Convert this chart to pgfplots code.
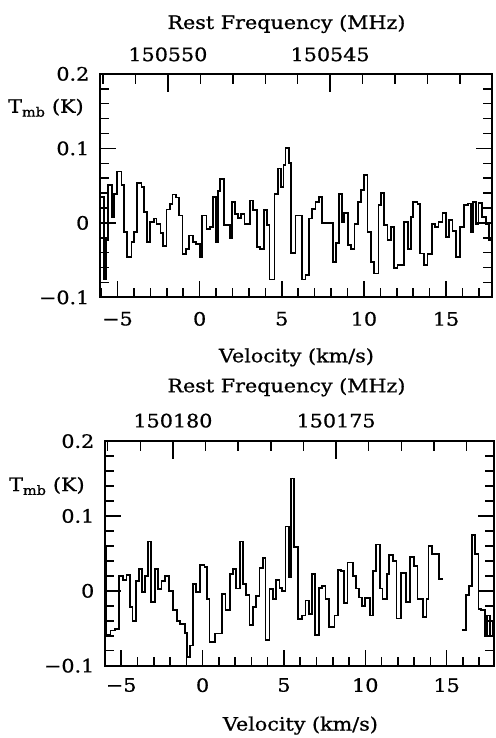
\documentclass[border=0pt]{standalone}
\usepackage{fontspec}
\setmainfont{DejaVu Serif}
\newfontfamily\lblfont{DejaVu Serif}[FakeStretch=1.12, FakeBold=0.8]
\usepackage{pgfplots}
\pgfplotsset{compat=1.18}

\newcommand\lbl{\lblfont\fontsize{18.5pt}{21pt}\selectfont}

\begin{document}
\begin{tikzpicture}

% upper spectrum
\begin{axis}[at={(100pt,440pt)}, scale only axis, width=393pt, height=224pt,
  xmin=-6.08, xmax=17.80, ymin=-0.1, ymax=0.2, clip=false,
  major tick length=16pt, minor tick length=9pt,
  major tick style={black, line width=1.5pt}, minor tick style={black, line width=1.5pt},
  xtick={-5,0,5,10,15}, minor xtick={-6,...,17}, xtick pos=lower,
  ytick pos=both, yticklabel pos=lower, yticklabel style={xshift=-7pt},
  minor y tick num=4, ytick={-0.1,0,0.1,0.2}, yticklabels={−0.1,0,0.1,0.2},
  axis line style={line width=2pt},
  tick label style={font=\lbl}, xticklabels={−5,0,5,10,15}, xticklabel style={yshift=-11pt}]
\addplot[const plot mark left, black, line width=1.8pt, mark=none] coordinates {
(-6.00,0.035) (-5.83,-0.075) (-5.71,-0.023) (-5.57,0.051) (-5.36,0.008)
(-5.22,0.039) (-5.02,0.069) (-4.76,0.051) (-4.62,-0.012) (-4.42,-0.046)
(-4.15,-0.026) (-4.01,-0.012) (-3.81,0.054) (-3.54,0.048) (-3.40,0.015)
(-3.20,-0.026) (-3.00,0.001) (-2.79,0.006) (-2.63,-0.002) (-2.39,-0.014)
(-2.23,-0.031) (-2.02,0.018) (-1.82,0.025) (-1.66,0.038) (-1.42,0.034)
(-1.26,0.010) (-1.05,-0.042) (-0.81,-0.035) (-0.65,-0.017) (-0.41,-0.026)
(-0.20,-0.028) (0.00,-0.046) (0.16,0.010) (0.41,-0.008) (0.61,-0.006)
(0.81,0.035) (0.97,-0.026) (1.14,0.043) (1.26,0.059) (1.46,-0.003)
(1.87,-0.021) (1.99,0.028) (2.13,0.012) (2.33,0.007) (2.53,0.012)
(2.73,-0.002) (3.08,0.030) (3.24,0.017) (3.48,-0.032) (3.69,-0.035)
(3.91,0.017) (4.09,-0.003) (4.25,-0.076) (4.56,0.039) (4.76,0.073)
(4.96,0.048) (5.10,0.078) (5.22,0.101) (5.43,0.080) (5.57,-0.040)
(5.83,0.010) (6.24,-0.076) (6.44,-0.070) (6.64,0.006) (6.85,0.019)
(7.05,0.028) (7.25,0.035) (7.45,0.000) (8.10,-0.052) (8.31,-0.027)
(8.46,0.039) (8.67,0.001) (8.81,0.013) (9.01,-0.030) (9.22,-0.035)
(9.42,-0.001) (9.62,0.028) (9.82,0.044) (10.02,0.064) (10.22,-0.012)
(10.43,-0.052) (10.63,-0.068) (10.89,0.024) (11.04,0.040) (11.24,-0.003)
(11.44,-0.023) (11.65,-0.005) (11.85,-0.060) (12.05,-0.057) (12.45,0.001)
(12.66,-0.035) (12.86,0.008) (13.00,0.028) (13.26,0.025) (13.41,-0.041)
(13.67,-0.056) (13.87,-0.042) (14.14,-0.001) (14.34,-0.005) (14.54,0.001)
(14.78,0.013) (14.99,-0.019) (15.19,0.004) (15.39,-0.011) (15.60,-0.046)
(15.84,-0.005) (16.10,0.024) (16.36,0.026) (16.51,-0.012) (16.65,0.028)
(16.81,-0.001) (16.97,0.027) (17.21,0.008) (17.45,-0.001) (17.62,-0.023)
(17.76,-0.023)
};
\end{axis}
% upper frequency scale (offset from 150540 MHz)
\begin{axis}[at={(100pt,440pt)}, scale only axis, width=393pt, height=224pt,
  xmin=0.01, xmax=12.10, x dir=reverse, ymin=0, ymax=1, ytick=\empty,
  major tick length=18pt, minor tick length=10pt,
  major tick style={black, line width=1.5pt}, minor tick style={black, line width=1.5pt},
  xtick={5,10}, minor xtick={1,...,12},
  xtick pos=upper, xticklabel pos=upper, axis line style={line width=2pt},
  tick label style={font=\lbl}, xticklabels={150545,150550}, xticklabel style={yshift=9pt}]
\end{axis}

% lower spectrum
\begin{axis}[at={(105pt,71pt)}, scale only axis, width=390pt, height=225pt,
  xmin=-6.01, xmax=17.91, ymin=-0.1, ymax=0.2, clip=false,
  major tick length=16pt, minor tick length=9pt,
  major tick style={black, line width=1.5pt}, minor tick style={black, line width=1.5pt},
  xtick={-5,0,5,10,15}, minor xtick={-6,...,17}, xtick pos=lower,
  ytick pos=both, yticklabel pos=lower, yticklabel style={xshift=-7pt},
  minor y tick num=4, ytick={-0.1,0,0.1,0.2}, yticklabels={−0.1,0,0.1,0.2},
  axis line style={line width=2pt},
  tick label style={font=\lbl}, xticklabels={−5,0,5,10,15}, xticklabel style={yshift=-9pt}]
\addplot[const plot mark left, black, line width=1.8pt, mark=none] coordinates {
(-5.98,0.057) (-5.95,-0.059) (-5.66,-0.053) (-5.40,-0.051) (-5.13,0.020)
(-4.89,0.015) (-4.68,0.021) (-4.48,-0.022) (-4.31,-0.040) (-4.11,0.013)
(-3.91,0.029) (-3.70,-0.002) (-3.56,0.020) (-3.36,0.066) (-3.15,-0.015)
(-2.94,0.029) (-2.74,0.002) (-2.53,0.013) (-2.33,0.020) (-2.07,0.000)
(-1.82,-0.026) (-1.58,-0.040) (-1.37,-0.044) (-1.10,-0.056) (-0.96,-0.088)
(-0.75,-0.073) (-0.60,0.009) (-0.39,-0.002) (-0.18,0.035) (0.12,0.032)
(0.26,-0.011) (0.43,-0.068) (0.74,-0.057) (1.21,-0.004) (1.41,-0.026)
(1.66,0.022) (1.86,0.029) (2.07,0.003) (2.31,0.066) (2.47,0.009)
(2.68,-0.006) (2.88,-0.046) (3.09,-0.022) (3.29,-0.007) (3.50,0.031)
(3.70,0.044) (3.87,-0.066) (4.11,0.002) (4.31,-0.011) (4.52,0.015)
(4.72,0.004) (4.89,0.000) (5.09,0.086) (5.29,0.018) (5.44,0.150)
(5.64,0.059) (5.85,-0.038) (6.12,-0.033) (6.32,-0.013) (6.52,-0.031)
(6.73,0.022) (6.93,-0.059) (7.13,0.004) (7.34,0.007) (7.55,-0.011)
(7.75,-0.048) (8.10,-0.033) (8.30,0.028) (8.51,0.026) (8.71,-0.016)
(8.91,0.038) (9.26,0.020) (9.43,0.003) (9.63,-0.009) (9.80,-0.020)
(10.00,-0.010) (10.29,-0.033) (10.49,0.026) (10.66,0.062) (10.90,0.003)
(11.06,-0.011) (11.31,0.022) (11.47,0.048) (11.72,0.040) (11.92,-0.037)
(12.19,0.024) (12.50,-0.015) (12.74,0.045) (13.01,0.033) (13.21,-0.011)
(13.56,-0.035) (13.76,-0.011) (13.88,0.060) (14.09,0.049) (14.54,0.016)
(14.79,0.016)
};
\addplot[const plot mark left, black, line width=1.8pt, mark=none] coordinates {
(15.93,-0.052) (16.18,-0.006) (16.38,0.007) (16.55,0.075) (16.75,0.049)
(16.95,-0.024) (17.10,-0.026) (17.36,-0.060) (17.50,-0.033) (17.65,-0.060)
(17.81,-0.040) (17.88,-0.040)
};
\addplot[black, line width=1.6pt, mark=none] coordinates {(16.95,0) (17.88,0)};
\end{axis}
% lower frequency scale (offset from 150170 MHz)
\begin{axis}[at={(105pt,71pt)}, scale only axis, width=390pt, height=225pt,
  xmin=0.16, xmax=12.09, x dir=reverse, ymin=0, ymax=1, ytick=\empty,
  major tick length=18pt, minor tick length=10pt,
  major tick style={black, line width=1.5pt}, minor tick style={black, line width=1.5pt},
  xtick={5,10}, minor xtick={1,...,12},
  xtick pos=upper, xticklabel pos=upper, axis line style={line width=2pt},
  tick label style={font=\lbl}, xticklabels={150175,150180}, xticklabel style={yshift=10pt}]
\end{axis}

% titles and labels
\node[font=\lbl, anchor=base] at (287pt,709pt) {Rest Frequency (MHz)};
\node[font=\lbl, anchor=base] at (297pt,375pt) {Velocity (km/s)};
\node[font=\lbl, anchor=base] at (287pt,345pt) {Rest Frequency (MHz)};
\node[font=\lbl, anchor=base] at (301pt,6pt) {Velocity (km/s)};
\node[font=\lbl, anchor=base west, inner sep=0pt] at (8pt,625pt) {T\textsubscript{mb} (K)};
\node[font=\lbl, anchor=base west, inner sep=0pt] at (9pt,246pt) {T\textsubscript{mb} (K)};
\path (0,0) rectangle (496pt,738pt);
\end{tikzpicture}
\end{document}
